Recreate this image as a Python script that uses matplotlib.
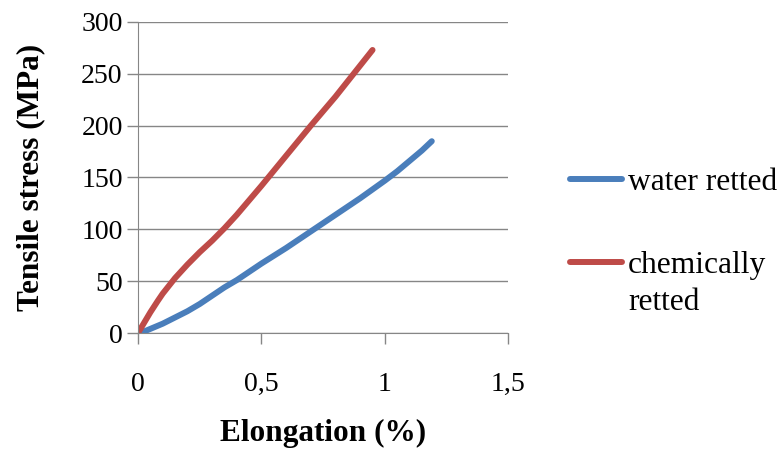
import matplotlib
matplotlib.use("Agg")
from matplotlib import pyplot as plt

# elongation (%) vs tensile stress (MPa)
water_x = [0, 0.03, 0.06, 0.1, 0.15, 0.2, 0.25, 0.3, 0.35, 0.4, 0.45, 0.5,
           0.6, 0.7, 0.8, 0.9, 1.0, 1.05, 1.1, 1.15, 1.19]
water_y = [0, 2, 5, 9, 15, 21, 28, 36, 44, 51, 59, 67,
           82, 98, 114, 130, 147, 156, 166, 176, 185]
chem_x = [0, 0.02, 0.05, 0.08, 0.1, 0.13, 0.15, 0.2, 0.25, 0.3, 0.35, 0.4,
          0.45, 0.5, 0.6, 0.7, 0.8, 0.9, 0.95]
chem_y = [0, 8, 20, 31, 38, 47, 53, 66, 78, 89, 101, 114,
          128, 142, 171, 200, 228, 258, 273]
series_names = ["water retted", "chemically"]
wrap_line = "retted"  # second line of the chemically retted label
x_ticks = [0, 0.5, 1, 1.5]
x_tick_labels = ["0", "0,5", "1", "1,5"]
y_ticks = [0, 50, 100, 150, 200, 250, 300]

plt.rcParams["font.family"] = ["Liberation Serif", "DejaVu Serif"]
grey = "#868686"

fig = plt.figure(figsize=(7.82, 4.57), dpi=100)
ax = fig.add_axes([0.1765, 0.2713, 0.4735, 0.6806])

l1, = ax.plot(water_x, water_y, color="#4a7ebb", lw=4.3, solid_capstyle="round")
l2, = ax.plot(chem_x, chem_y, color="#be4b48", lw=4.3, solid_capstyle="round")

ax.set_xlim(0, 1.5)
ax.set_ylim(0, 300)
ax.set_xticks(x_ticks)
ax.set_xticklabels(x_tick_labels)
ax.set_yticks(y_ticks)
ax.yaxis.grid(True, color=grey, lw=1)
ax.set_axisbelow(True)
for s in ["top", "right"]:
    ax.spines[s].set_visible(False)
for s in ["left", "bottom"]:
    ax.spines[s].set_color(grey)
ax.tick_params(axis="both", colors=grey, length=8, width=1, labelsize=20,
               labelcolor="black")
ax.tick_params(axis="x", pad=20)
ax.tick_params(axis="y", pad=3)

ax.set_xlabel("Elongation (%)", fontsize=22.5, fontweight="bold", labelpad=16)
ax.set_ylabel("Tensile stress (MPa)", fontsize=22.5, fontweight="bold", labelpad=26)

leg = fig.legend([l1, l2], series_names, loc="upper left",
                 bbox_to_anchor=(0.713, 0.66), frameon=False, fontsize=22.7,
                 handlelength=1.65, handletextpad=0.19, labelspacing=1.72,
                 borderaxespad=0)

# put the second line of the label under "chemically"
fig.canvas.draw()
bb = leg.get_texts()[1].get_window_extent()
W, H = fig.bbox.width, fig.bbox.height
fig.text(bb.x0 / W, (bb.y0 - 37) / H, wrap_line, fontsize=22.7,
         ha="left", va="bottom")

fig.savefig("out.png", dpi=100)
